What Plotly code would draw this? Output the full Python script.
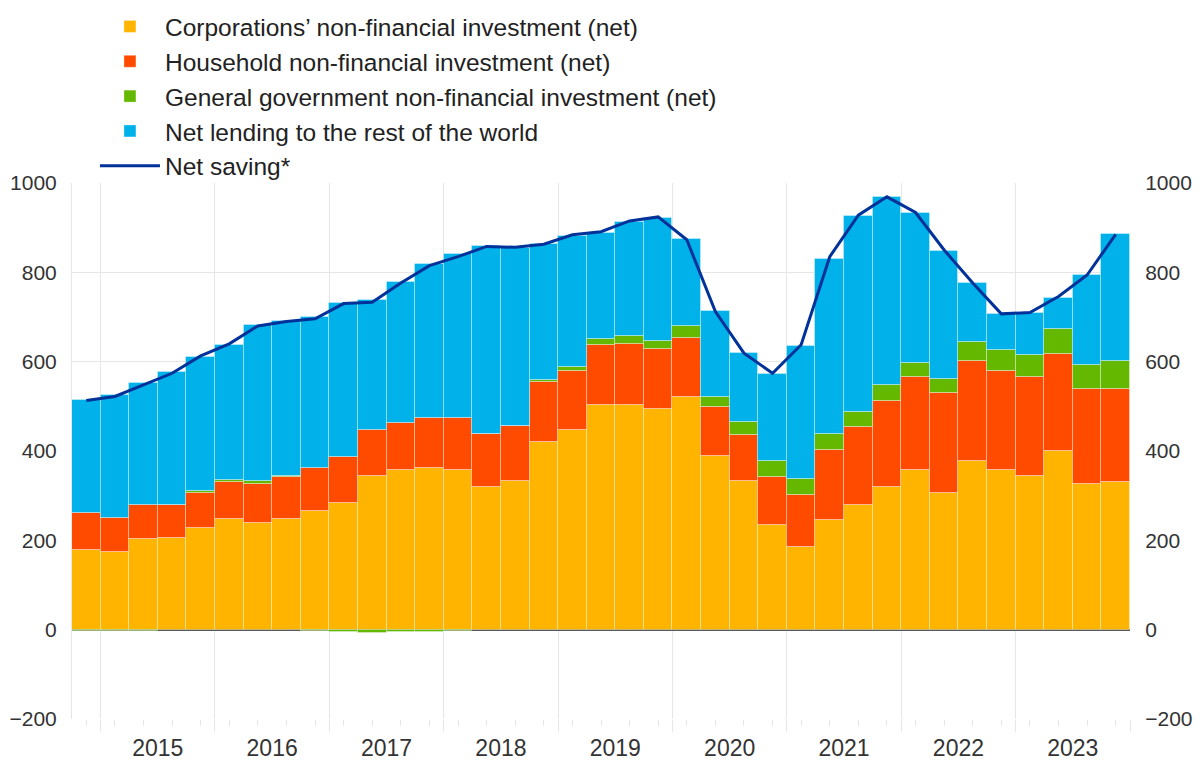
import plotly.graph_objects as go

# quarterly data, EUR billions (four-quarter sums)
quarters = [
    "2014Q4",
    "2015Q1", "2015Q2", "2015Q3", "2015Q4",
    "2016Q1", "2016Q2", "2016Q3", "2016Q4",
    "2017Q1", "2017Q2", "2017Q3", "2017Q4",
    "2018Q1", "2018Q2", "2018Q3", "2018Q4",
    "2019Q1", "2019Q2", "2019Q3", "2019Q4",
    "2020Q1", "2020Q2", "2020Q3", "2020Q4",
    "2021Q1", "2021Q2", "2021Q3", "2021Q4",
    "2022Q1", "2022Q2", "2022Q3", "2022Q4",
    "2023Q1", "2023Q2", "2023Q3", "2023Q4",
]
corporations = [179, 174, 204, 205, 227, 248, 239, 248, 266, 283, 344, 358, 362,
                358, 319, 333, 420, 446, 502, 503, 494, 522, 389, 332, 235, 185,
                246, 278, 319, 358, 306, 377, 358, 343, 400, 327, 330]
households = [83, 77, 74, 73, 79, 82, 88, 94, 97, 103, 103, 104, 111,
              115, 119, 123, 134, 132, 136, 137, 135, 132, 109, 104, 106, 117,
              157, 175, 192, 207, 223, 225, 222, 222, 217, 211, 208]
government = [-2, -3, -3, 0, 5, 6, 5, 2, -4, -5, -7, -5, -5,
              -4, 0, 1, 4, 10, 13, 18, 18, 25, 24, 29, 36, 35,
              35, 35, 37, 33, 33, 43, 46, 49, 56, 55, 64]
net_lending = [252, 275, 274, 298, 300, 302, 350, 346, 338, 346, 290, 317, 346,
               368, 420, 397, 305, 294, 238, 254, 274, 196, 192, 154, 196, 299,
               392, 438, 420, 334, 286, 132, 80, 94, 70, 200, 283]
net_saving = [513, 522, 548, 574, 613, 640, 680, 690, 696, 730, 733, 776, 815,
              835, 858, 856, 863, 884, 891, 915, 924, 873, 712, 619, 574, 638,
              835, 928, 969, 934, 850, 776, 707, 710, 746, 794, 885]
years = list(range(2015, 2024))

# quarter -> position on a continuous year axis (bar centre)
x = [int(q[:4]) + (int(q[-1]) - 0.5) / 4 for q in quarters]

FONT = "Liberation Sans, Arial, sans-serif"
GRID = "#e6e6e6"
TEXT = "#333333"

fig = go.Figure()
bars = [
    ("Corporations\u2019 non-financial investment (net)", corporations, "#ffb400"),
    ("Household non-financial investment (net)", households, "#ff4b00"),
    ("General government non-financial investment (net)", government, "#65b800"),
    ("Net lending to the rest of the world", net_lending, "#00b1ea"),
]
for i, (name, vals, col) in enumerate(bars):
    fig.add_bar(x=x, y=vals, name=name, width=0.25, legendgroup=str(i),
                marker=dict(color=col, line=dict(color="rgba(255,255,255,0.35)", width=1)))
fig.add_scatter(x=x, y=net_saving, mode="lines", name="Net saving*", legendgroup="4",
                line=dict(color="#003299", width=3))
# invisible copy so the mirrored axes (right y, year labels) get drawn
fig.add_scatter(x=x, y=net_saving, mode="lines", xaxis="x2", yaxis="y2",
                line=dict(color="rgba(0,0,0,0)"), showlegend=False, hoverinfo="skip")

# the page body adds an 8px offset, margins compensate for it
fig.update_layout(
    width=1202, height=762,
    barmode="relative", bargap=0,
    paper_bgcolor="white", plot_bgcolor="white",
    margin=dict(l=64, r=80, t=175, b=51, autoexpand=False),
    font=dict(family=FONT, size=20, color="#222222"),
    legend=dict(x=0.0217, y=1.334, xanchor="left", yanchor="top",
                traceorder="grouped", tracegroupgap=0, itemwidth=60,
                font=dict(size=24.5, color="#222222"), bgcolor="rgba(0,0,0,0)"),
    xaxis=dict(range=[2014.75, 2024.0], tickmode="array", automargin=False,
               tickvals=list(range(2015, 2025)), showticklabels=False,
               ticks="outside", ticklen=12, tickcolor=GRID,
               showgrid=True, gridcolor=GRID, zeroline=False,
               minor=dict(tickvals=x, ticks="outside", ticklen=6, tickcolor=GRID, showgrid=False)),
    xaxis2=dict(range=[2014.75, 2024.0], overlaying="x", side="bottom", automargin=False,
                tickmode="array", tickvals=[y + 0.5 for y in years],
                ticktext=[str(y) for y in years], ticks="outside", ticklen=8,
                tickcolor="rgba(0,0,0,0)", showgrid=False, zeroline=False,
                tickfont=dict(size=23, color=TEXT)),
    yaxis=dict(range=[-200, 1000], tickmode="array", tickvals=list(range(-200, 1001, 200)),
               automargin=False,
               showgrid=True, gridcolor=GRID, zeroline=True, zerolinecolor="#5a5a5a",
               zerolinewidth=1.5, showline=True, linecolor=GRID,
               ticks="outside", ticklen=10, tickcolor="rgba(0,0,0,0)",
               tickfont=dict(size=21, color=TEXT)),
    yaxis2=dict(range=[-200, 1000], overlaying="y", side="right", tickmode="array",
                automargin=False,
                tickvals=list(range(-200, 1001, 200)), showgrid=False, zeroline=False,
                ticks="outside", ticklen=10, tickcolor="rgba(0,0,0,0)",
                tickfont=dict(size=21, color=TEXT)),
)

fig.write_html("out.html")
